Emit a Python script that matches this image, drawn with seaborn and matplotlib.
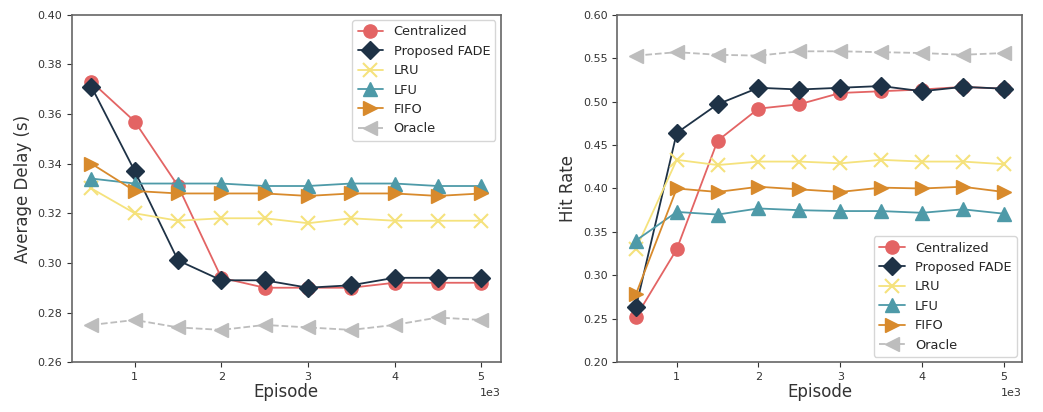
import numpy as np
import pandas as pd
import matplotlib
matplotlib.use("Agg")
import matplotlib.pyplot as plt
import seaborn as sns

episodes = [500, 1000, 1500, 2000, 2500, 3000, 3500, 4000, 4500, 5000]
methods = ["Centralized", "Proposed FADE", "LRU", "LFU", "FIFO", "Oracle"]

delay_centralized = [0.373, 0.357, 0.331, 0.294, 0.290, 0.290, 0.290, 0.292, 0.292, 0.292]
delay_fade = [0.371, 0.337, 0.301, 0.293, 0.293, 0.290, 0.291, 0.294, 0.294, 0.294]
delay_lru = [0.330, 0.320, 0.317, 0.318, 0.318, 0.316, 0.318, 0.317, 0.317, 0.317]
delay_lfu = [0.334, 0.332, 0.332, 0.332, 0.331, 0.331, 0.332, 0.332, 0.331, 0.331]
delay_fifo = [0.340, 0.329, 0.328, 0.328, 0.328, 0.327, 0.328, 0.328, 0.327, 0.328]
delay_oracle = [0.275, 0.277, 0.274, 0.273, 0.275, 0.274, 0.273, 0.275, 0.278, 0.277]

hit_centralized = [0.252, 0.330, 0.455, 0.492, 0.497, 0.510, 0.512, 0.514, 0.517, 0.515]
hit_fade = [0.263, 0.464, 0.497, 0.516, 0.514, 0.516, 0.518, 0.512, 0.517, 0.515]
hit_lru = [0.330, 0.433, 0.427, 0.431, 0.431, 0.429, 0.433, 0.431, 0.431, 0.428]
hit_lfu = [0.340, 0.373, 0.370, 0.377, 0.375, 0.374, 0.374, 0.372, 0.376, 0.371]
hit_fifo = [0.278, 0.400, 0.396, 0.402, 0.399, 0.396, 0.401, 0.400, 0.402, 0.396]
hit_oracle = [0.553, 0.557, 0.554, 0.553, 0.558, 0.558, 0.557, 0.556, 0.554, 0.556]

colors = ["#e36464", "#1e3246", "#f5e27c", "#4e9aa8", "#d88a2c", "#bdbdbd"]
markers = ["o", "D", "x", "^", ">", "<"]
linestyles = ["-", "-", "-", "-", "-", "--"]

delay_sets = [delay_centralized, delay_fade, delay_lru, delay_lfu, delay_fifo, delay_oracle]
hit_sets = [hit_centralized, hit_fade, hit_lru, hit_lfu, hit_fifo, hit_oracle]

sns.set_style("white")
plt.rcParams["font.family"] = ["DejaVu Sans"]

fig = plt.figure(figsize=(10.43, 4.12), dpi=100)
ax1 = fig.add_axes([0.069, 0.121, 0.411, 0.843])
ax2 = fig.add_axes([0.592, 0.121, 0.388, 0.843])

for ax, sets, ylab, ylim, yticks, loc in [
    (ax1, delay_sets, "Average Delay (s)", (0.26, 0.40), np.arange(0.26, 0.401, 0.02), "upper right"),
    (ax2, hit_sets, "Hit Rate", (0.20, 0.60), np.arange(0.20, 0.601, 0.05), "lower right"),
]:
    for m, vals, c, mk, ls in zip(methods, sets, colors, markers, linestyles):
        df = pd.DataFrame({"Episode": episodes, "value": vals})
        sns.lineplot(data=df, x="Episode", y="value", color=c, marker=mk, linestyle=ls,
                     markersize=9.5, linewidth=1.3, markeredgewidth=1.5 if mk == "x" else 1.0,
                     markeredgecolor=c, label=m, ax=ax)
    ax.set_ylim(*ylim)
    ax.set_yticks(yticks)
    ax.set_yticklabels([f"{t:.2f}" for t in yticks])
    ax.set_xticks([1000, 2000, 3000, 4000, 5000])
    ax.set_xticklabels(["1", "2", "3", "4", "5"])
    ax.set_xlim(275, 5225)
    ax.text(1.0, -0.075, "1e3", transform=ax.transAxes, ha="right", va="top", fontsize=8, color="#333333")
    ax.set_xlabel("Episode", fontsize=12, color="#333333", labelpad=1)
    ax.set_ylabel(ylab, fontsize=12, color="#333333")
    ax.tick_params(axis="both", labelsize=8, colors="#333333", length=3.5, direction="out", left=True, bottom=True)
    for s in ax.spines.values():
        s.set_color("#666666")
        s.set_linewidth(1.2)
    leg = ax.legend(loc=loc, fontsize=9.3, frameon=True, markerscale=1.0,
                    handlelength=2.0, labelspacing=0.5, borderpad=0.4, borderaxespad=0.4)
    leg.get_frame().set_edgecolor("#cccccc")

fig.savefig("out.png", dpi=100)
